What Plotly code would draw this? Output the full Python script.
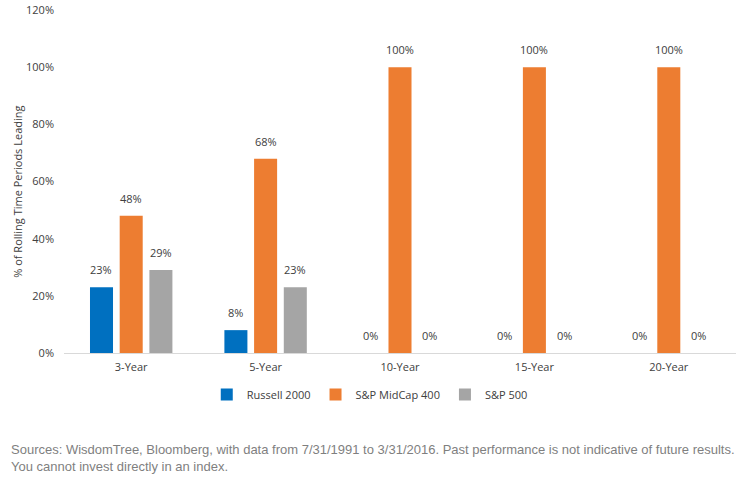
import plotly.graph_objects as go

categories = ["3-Year", "5-Year", "10-Year", "15-Year", "20-Year"]
russell_2000 = [23, 8, 0, 0, 0]
sp_midcap_400 = [48, 68, 100, 100, 100]
sp_500 = [29, 23, 0, 0, 0]
y_ticks = [0, 20, 40, 60, 80, 100, 120]

series = [
    ("Russell 2000", russell_2000, "#0070C0"),
    ("S&P MidCap 400", sp_midcap_400, "#ED7D31"),
    ("S&P 500", sp_500, "#A5A5A5"),
]

font_family = "Open Sans, Liberation Sans, Arial, sans-serif"
W, H = 745, 483
ML, MR, MT, MB = 64, 9, 10, 130
BARGAP, GROUPGAP = 0.337, 0.225
plot_w = W - ML - MR
plot_h = H - MT - MB
slot_px = plot_w / len(categories) * (1 - BARGAP) / len(series)

fig = go.Figure()
annotations = []
for i, (name, vals, color) in enumerate(series):
    fig.add_trace(go.Bar(
        x=categories, y=vals, name=name,
        marker=dict(color=color, line=dict(width=0)),
    ))
    for c, v in zip(categories, vals):
        annotations.append(dict(
            x=c, y=v, xref="x", yref="y", text=f"{v}%", showarrow=False,
            xanchor="center", yanchor="bottom", yshift=8,
            xshift=(i - (len(series) - 1) / 2) * slot_px,
            font=dict(size=11, color="#404040", family=font_family),
        ))

annotations += [
    dict(text="% of Rolling Time Periods Leading", textangle=-90,
         xref="paper", yref="paper", x=(18 - ML) / plot_w, y=0.47,
         xanchor="center", yanchor="middle", showarrow=False,
         font=dict(size=11, color="#404040")),
    dict(text="Sources: WisdomTree, Bloomberg, with data from 7/31/1991 to 3/31/2016. Past performance is not indicative of future results.<br>You cannot invest directly in an index.",
         xref="paper", yref="paper", x=(9 - ML) / plot_w, y=-(440 - (H - MB)) / plot_h,
         xanchor="left", yanchor="top", align="left", showarrow=False,
         font=dict(size=13, color="#7F7F7F", family="Liberation Sans, Arial, sans-serif")),
]

fig.update_layout(
    width=W, height=H,
    margin=dict(l=ML, r=MR, t=MT, b=MB, autoexpand=False),
    paper_bgcolor="white", plot_bgcolor="white",
    barmode="group", bargap=BARGAP, bargroupgap=GROUPGAP,
    font=dict(family=font_family, size=11, color="#404040"),
    showlegend=True,
    legend=dict(orientation="h", x=0.455, xanchor="center", y=-(380 - (H - MB)) / plot_h, yanchor="top",
                font=dict(size=11, color="#404040"), itemwidth=30,
                tracegroupgap=0, traceorder="normal"),
    xaxis=dict(showgrid=False, showline=True, linecolor="#D9D9D9", linewidth=1,
               ticks="outside", ticklen=4, tickcolor="rgba(0,0,0,0)", automargin=False,
               tickfont=dict(size=11, color="#404040")),
    yaxis=dict(range=[0, 120], tickvals=y_ticks, ticktext=[f"{t}%" for t in y_ticks],
               showgrid=False, zeroline=False, showline=False, ticks="", automargin=False,
               tickfont=dict(size=11, color="#404040"), ticklabelstandoff=9),
    annotations=annotations,
)

fig.write_html("out.html")
